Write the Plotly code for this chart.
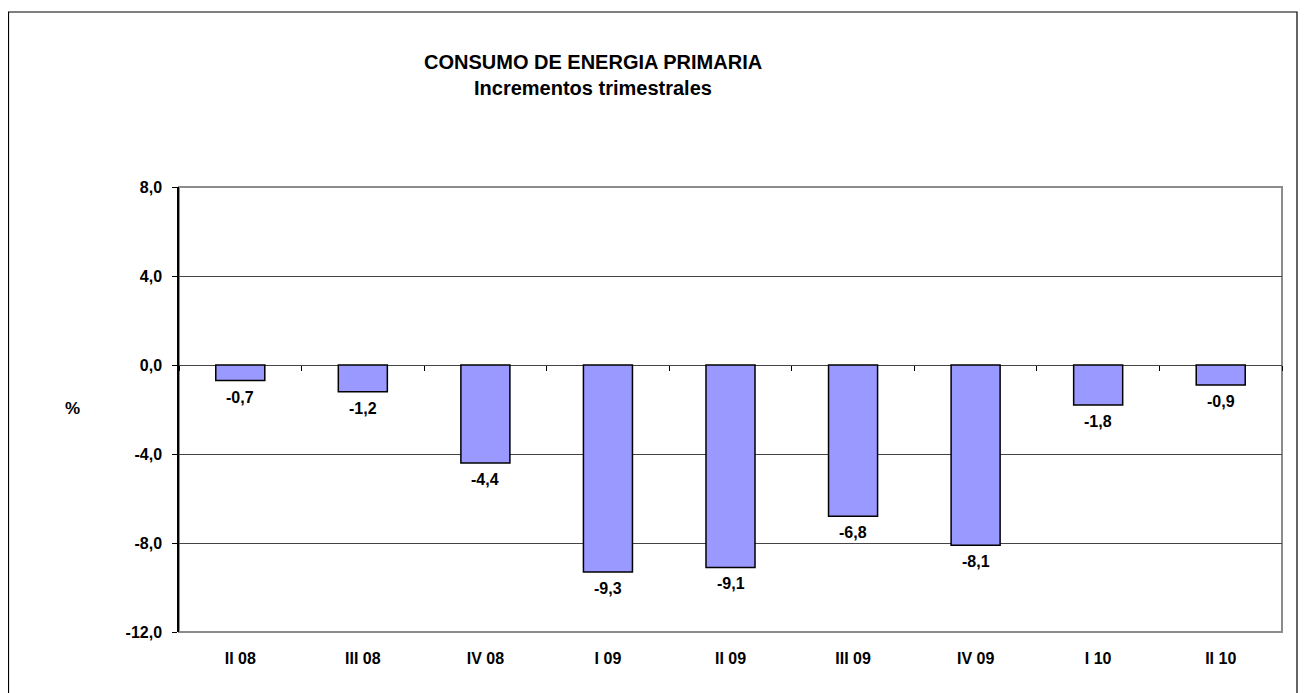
import plotly.graph_objects as go

categories = ["II 08", "III 08", "IV 08", "I 09", "II 09", "III 09", "IV 09", "I 10", "II 10"]
values = [-0.7, -1.2, -4.4, -9.3, -9.1, -6.8, -8.1, -1.8, -0.9]
y_ticks = [8.0, 4.0, 0.0, -4.0, -8.0, -12.0]
y_tick_labels = [f"{v:.1f}".replace(".", ",") for v in y_ticks]
title_line1 = "CONSUMO DE ENERGIA PRIMARIA"
title_line2 = "Incrementos trimestrales"
y_title = "%"

FONT = "Liberation Sans, Arial, sans-serif"
OFF = 8  # page body margin
W, H = 1306 - OFF, 693 - OFF
ML, MR, MT, MB = 179 - OFF, 24, 187 - OFF, 61
pw, ph = W - ML - MR, H - MT - MB

def px_x(x):
    return (x - OFF - ML) / pw

def px_y(y):
    return (H - MB - (y - OFF)) / ph

fig = go.Figure()
fig.add_trace(go.Bar(
    x=categories, y=values, width=0.4,
    marker=dict(color="#9999FF", line=dict(color="black", width=1.5)),
    hoverinfo="x+y", showlegend=False,
))
# helper trace for the boundary ticks on the zero line
fig.add_trace(go.Scatter(
    x=categories, y=values, xaxis="x2", mode="markers",
    marker=dict(opacity=0), hoverinfo="skip", showlegend=False,
))

for c, v in zip(categories, values):
    fig.add_annotation(
        x=c, y=v, xref="x", yref="y", text=f"{v:.1f}".replace(".", ","),
        showarrow=False, yanchor="top", yshift=-6,
        font=dict(family=FONT, size=16, color="black", weight="bold"),
    )

fig.add_annotation(x=px_x(593), y=px_y(62), xref="paper", yref="paper",
                   xanchor="center", yanchor="middle",
                   text=title_line1, showarrow=False,
                   font=dict(family=FONT, size=20, color="black", weight="bold"))
fig.add_annotation(x=px_x(593), y=px_y(88), xref="paper", yref="paper",
                   xanchor="center", yanchor="middle",
                   text=title_line2, showarrow=False,
                   font=dict(family=FONT, size=20, color="black", weight="bold"))
fig.add_annotation(x=px_x(73), y=px_y(408), xref="paper", yref="paper",
                   xanchor="center", yanchor="middle",
                   text=y_title, showarrow=False,
                   font=dict(family=FONT, size=17, color="black", weight="bold"))

# plot area border (gray)
fig.add_shape(type="rect", xref="paper", yref="paper", x0=0, x1=1, y0=0, y1=1,
              line=dict(color="#8c8c8c", width=2), layer="below")
# outer chart border
fig.add_shape(type="rect", xref="paper", yref="paper",
              x0=px_x(8.5), x1=px_x(1297), y0=px_y(700), y1=px_y(12),
              line=dict(color="black", width=1.2), layer="below")

zero_pos = (0 - (-12)) / (8 - (-12))

fig.update_layout(
    width=W, height=H,
    margin=dict(l=ML, r=MR, t=MT, b=MB, pad=0),
    paper_bgcolor="white", plot_bgcolor="white",
    font=dict(family=FONT, color="black"),
    bargap=0.6,
    xaxis=dict(
        type="category", categoryarray=categories, range=[-0.5, 8.5],
        showgrid=False, zeroline=False, showline=False,
        ticks="", ticklabelstandoff=15,
        tickfont=dict(family=FONT, size=16, color="black", weight="bold"),
    ),
    xaxis2=dict(
        type="category", categoryarray=categories, range=[-0.5, 8.5],
        overlaying="x", anchor="free", position=zero_pos, side="bottom",
        showgrid=False, zeroline=False, showline=False, showticklabels=False,
        ticks="outside", tickson="boundaries", ticklen=5, tickcolor="black", tickwidth=1,
    ),
    yaxis=dict(
        range=[-12, 8], tickvals=y_ticks, ticktext=y_tick_labels,
        showgrid=True, gridcolor="#444444", gridwidth=1,
        zeroline=True, zerolinecolor="#444444", zerolinewidth=1,
        showline=True, linecolor="black", linewidth=1.5,
        ticks="outside", ticklen=5, tickcolor="black", tickwidth=1,
        ticklabelstandoff=7,
        tickfont=dict(family=FONT, size=16, color="black", weight="bold"),
    ),
)

fig.write_html("out.html")
